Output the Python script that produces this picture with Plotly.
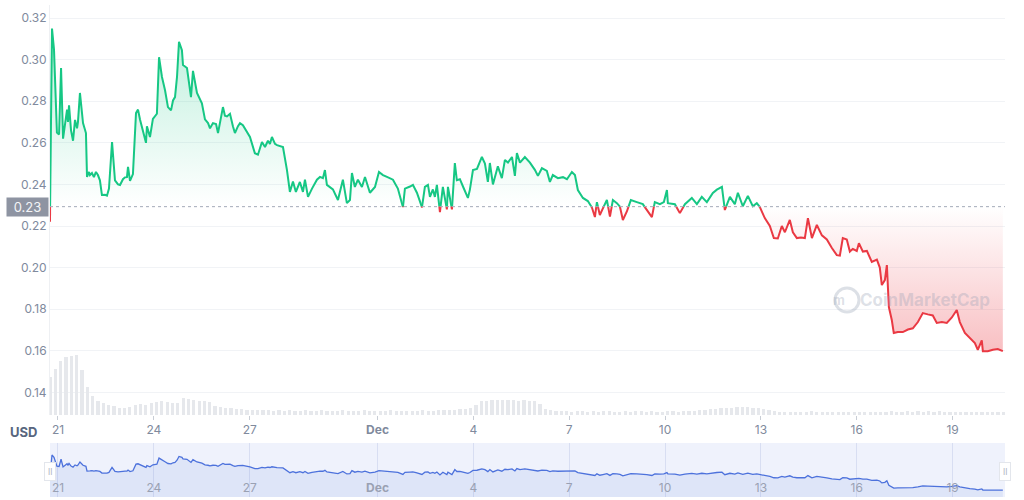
import numpy as np
import pandas as pd
import plotly.graph_objects as go

# ---------------- data ----------------
start = pd.Timestamp("2022-11-21 00:00")
hours = [-6.0, -5.3, -4.5, -3.0, -0.8, 0.8, 2.3, 3.8, 5.3, 6.8, 7.5, 8.3, 9.8, 11.3, 12.8, 14.3, 15.0,
         16.5, 18.8, 20.3, 21.0, 21.8, 23.3, 24.0, 25.5, 27.0, 28.5, 30.0, 31.5, 33.0, 35.3, 36.8,
         38.3, 40.6, 41.3, 42.8, 45.1, 46.6, 48.8, 50.3, 51.8, 52.6, 54.1, 56.3, 58.6, 60.1, 61.6,
         63.8, 66.1, 66.8, 69.1, 71.3, 74.3, 75.9, 78.1, 80.4, 82.6, 84.9, 86.4, 87.9, 89.4, 90.9,
         93.1, 93.9, 96.9, 99.9, 101.4, 104.4, 108.1, 110.4, 112.7, 114.2, 116.4, 118.7, 120.2,
         123.9, 125.4, 126.9, 129.2, 131.4, 132.9, 135.2, 136.7, 138.9, 140.4, 144.2, 147.9, 150.2,
         153.2, 155.5, 157.7, 159.2, 160.7, 163.0, 164.5, 169.0, 172.0, 174.2, 176.5, 178.7, 181.7,
         184.0, 185.5, 187.8, 190.8, 194.5, 196.8, 199.0, 200.5, 202.0, 206.5, 210.3, 214.0, 217.0,
         219.3, 220.8, 223.0, 225.3, 228.3, 230.6, 234.3, 238.1, 241.1, 244.1, 247.1, 251.6, 255.3,
         259.1, 260.6, 264.4, 266.6, 269.6, 273.4, 275.6, 277.9, 279.4, 281.6, 283.1, 284.6, 286.9,
         289.1, 292.1, 292.9, 295.9, 298.1, 299.6, 301.9, 304.2, 307.9, 309.4, 311.7, 314.7, 318.4,
         320.7, 322.9, 324.4, 326.7, 330.4, 333.4, 335.7, 338.0, 341.0, 343.2, 344.7, 347.0, 350.7,
         354.5, 358.2, 360.5, 363.5, 367.2, 369.5, 371.7, 375.5, 379.3, 382.3, 386.0, 388.3, 390.5,
         394.3, 398.0, 401.0, 403.3, 404.8, 407.0, 409.3, 412.3, 414.6, 416.8, 419.8, 422.1, 424.3,
         427.3, 430.3, 434.8, 439.3, 442.3, 446.1, 448.3, 452.1, 455.1, 457.4, 458.1, 463.4, 467.1,
         470.9, 476.1, 479.9, 483.6, 487.4, 491.9, 494.9, 498.7, 500.9, 504.7, 508.4, 510.7, 514.4,
         518.2, 521.9, 524.9, 527.2, 530.9, 534.7, 537.7, 540.7, 543.7, 546.0, 549.7, 552.0, 555.0,
         558.0, 561.0, 563.3, 566.3, 570.0, 573.8, 577.5, 581.3, 585.0, 587.3, 589.5, 592.5, 594.8,
         597.0, 600.0, 601.6, 604.6, 607.6, 611.3, 615.1, 617.3, 618.8, 621.1, 622.6, 624.1, 626.3,
         627.8, 630.8, 634.6, 638.4, 642.1, 645.9, 649.6, 653.4, 657.1, 660.1, 663.9, 667.6, 671.4,
         675.1, 677.4, 681.2, 684.9, 688.7, 690.9, 693.9, 694.7, 698.4, 702.2, 705.9, 709.7]
price = [0.222, 0.290, 0.315, 0.305, 0.265, 0.264, 0.296, 0.262, 0.270, 0.276, 0.270, 0.278, 0.266,
         0.261, 0.271, 0.267, 0.270, 0.284, 0.2695, 0.266, 0.2647, 0.2436, 0.246, 0.2445, 0.2455,
         0.2435, 0.246, 0.2445, 0.242, 0.2349, 0.235, 0.2346, 0.238, 0.2604, 0.255, 0.242, 0.240,
         0.2397, 0.2425, 0.2434, 0.2435, 0.2484, 0.2417, 0.245, 0.2743, 0.276, 0.2712, 0.266, 0.260,
         0.268, 0.2628, 0.2715, 0.274, 0.3012, 0.2917, 0.2853, 0.2772, 0.2756, 0.2804, 0.282, 0.2917,
         0.3086, 0.3046, 0.2974, 0.296, 0.282, 0.2946, 0.284, 0.279, 0.2713, 0.2695, 0.267, 0.2695,
         0.269, 0.2647, 0.2772, 0.273, 0.2727, 0.274, 0.268, 0.2647, 0.268, 0.2695, 0.2685, 0.267,
         0.2628, 0.255, 0.2543, 0.2604, 0.258, 0.261, 0.2595, 0.2628, 0.2595, 0.2589, 0.258, 0.2469,
         0.2364, 0.2414, 0.2364, 0.2412, 0.2364, 0.2423, 0.234, 0.238, 0.2423, 0.2436, 0.243, 0.2469,
         0.2398, 0.2376, 0.2325, 0.2423, 0.231, 0.2325, 0.2455, 0.2388, 0.2423, 0.2388, 0.2436, 0.236,
         0.2388, 0.246, 0.2445, 0.2436, 0.2423, 0.238, 0.2291, 0.238, 0.239, 0.2398, 0.236, 0.229,
         0.2388, 0.2398, 0.234, 0.2376, 0.234, 0.2398, 0.2267, 0.2388, 0.228, 0.2388, 0.228, 0.2503,
         0.242, 0.2425, 0.239, 0.2335, 0.2375, 0.2469, 0.2475, 0.2532, 0.250, 0.2412, 0.2503, 0.240,
         0.2487, 0.243, 0.2518, 0.2505, 0.2532, 0.2441, 0.2551, 0.2505, 0.2532, 0.2505, 0.247, 0.2441,
         0.2478, 0.2465, 0.2412, 0.2445, 0.243, 0.2435, 0.2425, 0.246, 0.2445, 0.2373, 0.2335, 0.232,
         0.229, 0.2243, 0.2315, 0.2253, 0.2285, 0.2325, 0.2245, 0.2325, 0.231, 0.2293, 0.2229, 0.227,
         0.2325, 0.2315, 0.2305, 0.2276, 0.2243, 0.2315, 0.2305, 0.2315, 0.2373, 0.231, 0.2305, 0.2262,
         0.2305, 0.2335, 0.2305, 0.234, 0.2315, 0.2359, 0.2375, 0.2388, 0.2277, 0.234, 0.2305, 0.236,
         0.2295, 0.2345, 0.2295, 0.231, 0.2291, 0.2238, 0.2200, 0.2142, 0.214, 0.220, 0.217, 0.2229,
         0.217, 0.2142, 0.2145, 0.2142, 0.2238, 0.2142, 0.2205, 0.2155, 0.2135, 0.2094, 0.206, 0.2058,
         0.2142, 0.2135, 0.2077, 0.209, 0.208, 0.2117, 0.2077, 0.208, 0.2027, 0.2038, 0.200, 0.1916,
         0.194, 0.2012, 0.181, 0.1748, 0.1685, 0.169, 0.169, 0.1702, 0.1708, 0.1738, 0.1781, 0.1775,
         0.177, 0.1734, 0.1738, 0.1734, 0.176, 0.1796, 0.1738, 0.1686, 0.1662, 0.1637, 0.1604, 0.165,
         0.1598, 0.1598, 0.1605, 0.1608, 0.1598]

vol_start = pd.Timestamp("2022-11-20 18:00")
vol_step_hours = 4
volume = [38, 46, 54, 58, 59, 60, 45, 28, 19, 14, 12, 10, 9, 7, 7, 8, 10, 11, 10, 12,
          13, 14, 13, 12, 12, 17, 16, 15, 14, 14, 13, 9, 8, 7, 7, 6, 6, 5, 5, 5,
          5, 5, 4, 5, 4, 5, 4, 4, 5, 4, 4, 5, 4, 4, 4, 5, 4,
          4, 4, 5, 4, 4, 4, 4, 5, 4, 4, 4, 4, 4, 5, 4, 4, 5, 5, 5,
          5, 6, 6, 7, 10, 14, 14, 15, 15, 15, 15, 15, 14, 15, 14, 14, 11, 6, 5, 4,
          4, 4, 3, 4, 4, 3, 4, 3, 4, 4, 3, 3, 4, 3, 4, 4, 3, 4, 3, 3, 4, 4, 3, 4, 4, 4, 5, 5, 6, 6, 7, 7,
          7, 8, 8, 8, 7, 7, 6, 5, 4,
          3, 3, 3, 3, 3, 3, 4, 3, 3, 3, 3, 3, 3, 3, 3, 3, 3, 3, 3, 3,
          3, 4, 3, 3, 4, 3, 4, 3, 4, 3, 4, 3, 3, 3, 3, 3, 3, 3, 3, 3, 3, 3, 3]

base_price = 0.2293
x_range = ["2022-11-20 18:00", "2022-12-20 15:20"]
tick_dates = ["2022-11-21", "2022-11-24", "2022-11-27", "2022-12-01", "2022-12-04",
              "2022-12-07", "2022-12-10", "2022-12-13", "2022-12-16", "2022-12-19"]
tick_text = ["21", "24", "27", "<b>Dec</b>", "4", "7", "10", "13", "16", "19"]
y_ticks = [0.14, 0.16, 0.18, 0.20, 0.22, 0.24, 0.26, 0.28, 0.30, 0.32]

GREEN = "#16c784"
RED = "#ea3943"
FONT = "Inter"

# ---------------- helpers ----------------
t = np.array(hours, dtype=float)
p = np.array(price, dtype=float)


def split_at_base(t, p, base):
    ts, ps = [t[0]], [p[0]]
    for i in range(1, len(p)):
        a, b = p[i - 1], p[i]
        if (a - base) * (b - base) < 0:
            f = (base - a) / (b - a)
            ts.append(t[i - 1] + f * (t[i] - t[i - 1]))
            ps.append(base)
        ts.append(t[i])
        ps.append(p[i])
    return np.array(ts), np.array(ps)


ts, ps = split_at_base(t, p, base_price)
xs = start + pd.to_timedelta(ts, unit="h")
x_orig = start + pd.to_timedelta(t, unit="h")
green_y = [v if v >= base_price - 1e-12 else None for v in ps]
red_y = [v if v <= base_price + 1e-12 else None for v in ps]
vx = vol_start + pd.to_timedelta(np.arange(len(volume)) * vol_step_hours, unit="h")

fig = go.Figure()

# volume bars
fig.add_trace(go.Bar(x=vx, y=volume, yaxis="y2", xaxis="x",
                     marker=dict(color="#e6e8ec", line=dict(width=0)),
                     width=vol_step_hours * 3600 * 1000 * 0.6, hoverinfo="skip"))

# green area
fig.add_trace(go.Scatter(x=xs, y=np.full(len(ps), base_price), mode="lines",
                         line=dict(width=0), hoverinfo="skip"))
fig.add_trace(go.Scatter(x=xs, y=np.maximum(ps, base_price), mode="lines", line=dict(width=0),
                         fill="tonexty",
                         fillgradient=dict(type="vertical", start=base_price, stop=0.315,
                                           colorscale=[[0, "rgba(22,199,132,0)"],
                                                       [1, "rgba(22,199,132,0.28)"]]),
                         hoverinfo="skip"))
# red area
fig.add_trace(go.Scatter(x=xs, y=np.full(len(ps), base_price), mode="lines",
                         line=dict(width=0), hoverinfo="skip"))
fig.add_trace(go.Scatter(x=xs, y=np.minimum(ps, base_price), mode="lines", line=dict(width=0),
                         fill="tonexty",
                         fillgradient=dict(type="vertical", start=0.16, stop=base_price,
                                           colorscale=[[0, "rgba(234,57,67,0.32)"],
                                                       [1, "rgba(234,57,67,0)"]]),
                         hoverinfo="skip"))
# lines
fig.add_trace(go.Scatter(x=xs, y=green_y, mode="lines", line=dict(color=GREEN, width=2),
                         connectgaps=False))
fig.add_trace(go.Scatter(x=xs, y=red_y, mode="lines", line=dict(color=RED, width=2),
                         connectgaps=False))

# navigator
fig.add_trace(go.Scatter(x=x_orig, y=p, xaxis="x2", yaxis="y3", mode="lines",
                         line=dict(color="#4d72dc", width=1.3), fill="tozeroy",
                         fillcolor="rgba(77,114,220,0.10)", hoverinfo="skip"))

xdom = [50 / 1024, 1005 / 1024]
fig.update_layout(
    width=1024, height=500, margin=dict(l=0, r=0, t=0, b=0),
    paper_bgcolor="white", plot_bgcolor="white", showlegend=False,
    font=dict(family=FONT, color="#808a9d", size=12),
    bargap=0,
    xaxis=dict(domain=xdom, type="date", range=x_range, anchor="y",
               tickvals=tick_dates, ticktext=tick_text, ticks="outside", ticklen=4,
               tickcolor="#c9ced6", showgrid=False, zeroline=False, showline=False,
               tickfont=dict(size=12, color="#808a9d", family=FONT)),
    yaxis=dict(domain=[0.17, 0.99], range=[0.1291, 0.3263], tickvals=y_ticks,
               tickformat=".2f", gridcolor="#f1f3f6", zeroline=False, showline=True,
               linecolor="#eef0f3", ticks="", tickfont=dict(size=12, color="#808a9d", family=FONT)),
    yaxis2=dict(overlaying="y", range=[0, 410], visible=False),
    xaxis2=dict(domain=xdom, type="date", range=x_range, anchor="y3",
                tickvals=tick_dates, ticktext=tick_text, ticks="", showgrid=True,
                gridcolor="rgba(200,208,235,0.6)", zeroline=False, showline=False,
                ticklabelposition="inside",
                tickfont=dict(size=12, color="#9aa1b3", family=FONT)),
    yaxis3=dict(domain=[0.006, 0.114], range=[0.129, 0.368], visible=False),
)

# navigator band background
fig.add_shape(type="rect", xref="x2 domain", yref="y3 domain", x0=0, x1=1, y0=0, y1=1,
              fillcolor="rgba(77,114,220,0.09)", line=dict(width=0), layer="below")

# dotted baseline
fig.add_shape(type="line", xref="x domain", yref="y", x0=0, x1=1, y0=base_price, y1=base_price,
              line=dict(color="#a3aab8", width=1, dash="dot"))

# baseline price label
fig.add_annotation(xref="paper", yref="y", x=27 / 1024, y=base_price, text="0.23",
                   showarrow=False, bgcolor="#8e94a2", font=dict(color="#f4f5f7", size=13, family=FONT),
                   width=37, height=14, borderpad=2, xanchor="center", yanchor="middle")

# USD label
fig.add_annotation(xref="paper", yref="paper", x=23 / 1024, y=1 - 432 / 500, text="<b>USD</b>",
                   showarrow=False, font=dict(color="#58667e", size=13, family=FONT),
                   xanchor="center", yanchor="middle")

# navigator handles
for hx in (0, 1):
    fig.add_annotation(xref="x2 domain", yref="y3 domain", x=hx, y=0.47, text="ll",
                       showarrow=False, bgcolor="white", bordercolor="#e3e6ec", borderwidth=1,
                       borderpad=3, font=dict(color="#b0b6c3", size=9, family=FONT),
                       xanchor="center", yanchor="middle")

# watermark
wm = "rgba(150,160,180,0.33)"
fig.add_shape(type="circle", xref="paper", yref="paper",
              x0=835 / 1024, x1=859 / 1024, y0=1 - 312 / 500, y1=1 - 288 / 500,
              line=dict(color=wm, width=3))
fig.add_annotation(xref="paper", yref="paper", x=847 / 1024, y=1 - 300 / 500, text="<b>m</b>",
                   showarrow=False, font=dict(color=wm, size=13, family=FONT))
fig.add_annotation(xref="paper", yref="paper", x=925 / 1024, y=1 - 300 / 500,
                   text="<b>CoinMarketCap</b>", showarrow=False,
                   font=dict(color=wm, size=17, family=FONT), xanchor="center", yanchor="middle")

fig.write_html("out.html")
